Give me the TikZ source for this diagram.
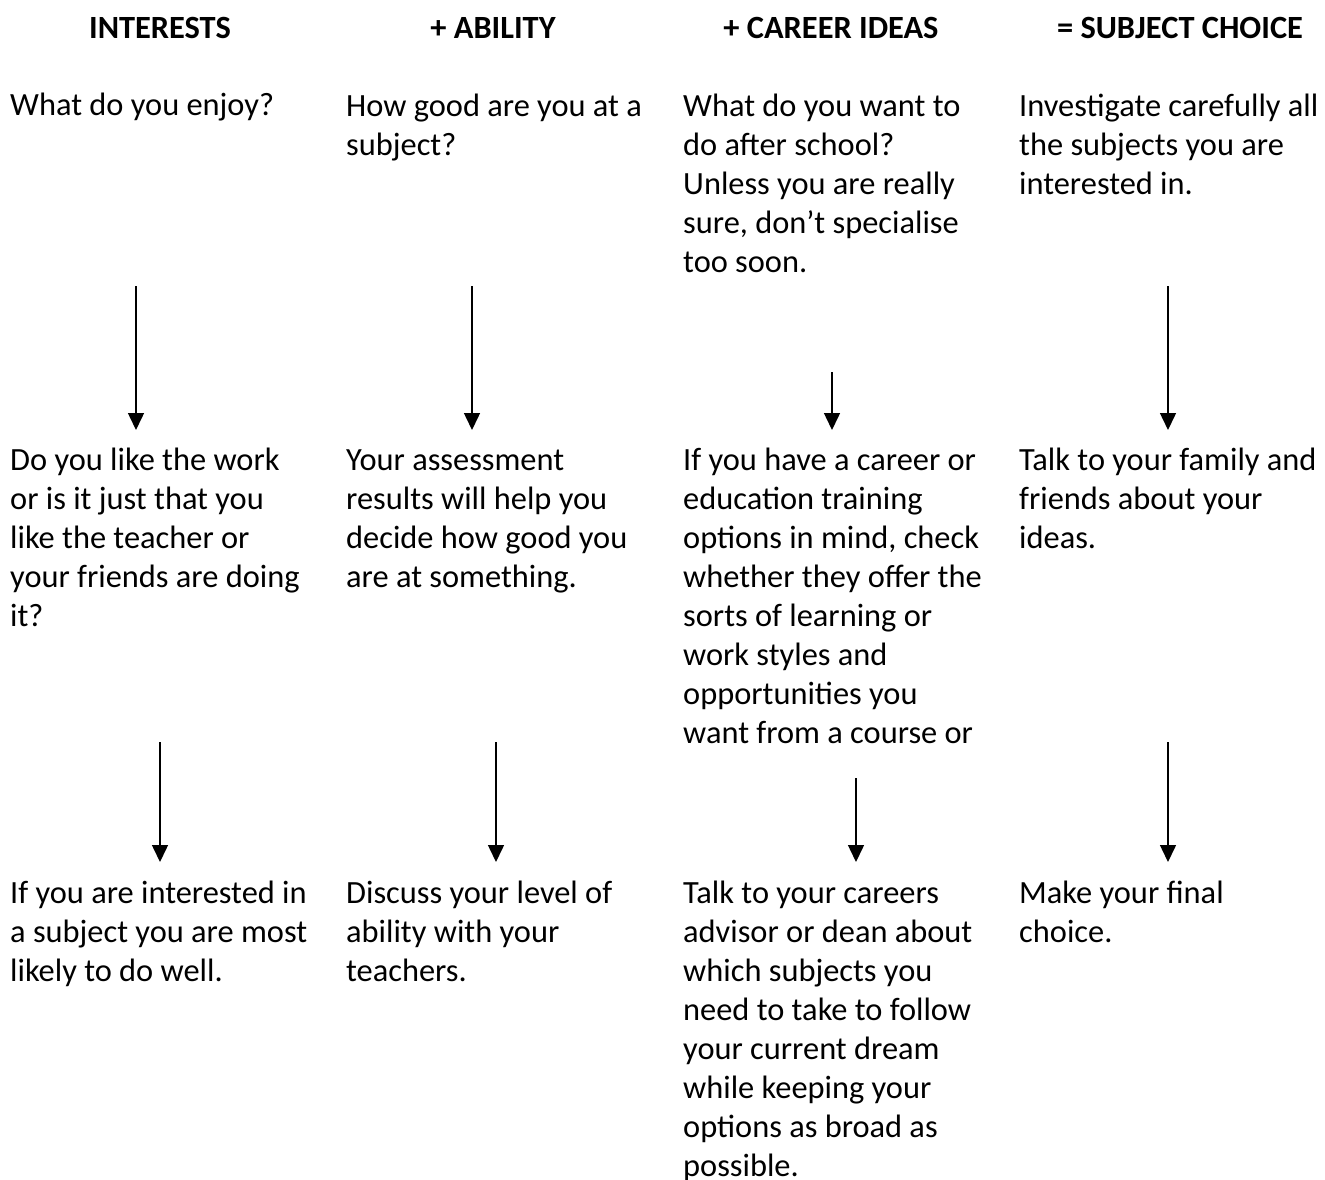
\documentclass[tikz,border=0pt]{standalone}
\usepackage{fontspec}
\setmainfont{Carlito}
\usetikzlibrary{arrows.meta}
\begin{document}
\begin{tikzpicture}[x=1pt,y=1pt,
  txt/.style={anchor=base west,inner sep=0pt,align=left,font=\fontsize{32.4}{39}\selectfont},
  hdr/.style={anchor=base,inner sep=0pt,font=\fontsize{32.4}{39}\selectfont\bfseries},
  arr/.style={line width=1.5pt,-{Triangle[width=16pt,length=17pt]}}]
\useasboundingbox (0,0) rectangle (1325,-1180);
% headers
\node[hdr] (h1) at (160,-39) {INTERESTS};
\node[hdr] (h2) at (493,-39) {+ ABILITY};
\node[hdr] (h3) at (831,-39) {+ CAREER IDEAS};
\node[hdr] (h4) at (1180,-39) {= SUBJECT CHOICE};
% row 1 (first baseline 116; anchor = last baseline)
\node[txt] (a1) at (10,-116) {What do you enjoy?};
\node[txt] (a2) at (346,-155) {How good are you at a\\subject?};
\node[txt] (a3) at (683,-272) {What do you want to\\do after school?\\Unless you are really\\sure, don’t specialise\\too soon.};
\node[txt] (a4) at (1019,-194) {Investigate carefully all\\the subjects you are\\interested in.};
% row 2 (first baseline 470)
\node[txt] (b1) at (10,-626) {Do you like the work\\or is it just that you\\like the teacher or\\your friends are doing\\it?};
\node[txt] (b2) at (346,-587) {Your assessment\\results will help you\\decide how good you\\are at something.};
\node[txt] (b3) at (683,-743) {If you have a career or\\education training\\options in mind, check\\whether they offer the\\sorts of learning or\\work styles and\\opportunities you\\want from a course or};
\node[txt] (b4) at (1019,-548) {Talk to your family and\\friends about your\\ideas.};
% row 3 (first baseline 903)
\node[txt] (c1) at (10,-981) {If you are interested in\\a subject you are most\\likely to do well.};
\node[txt] (c2) at (346,-981) {Discuss your level of\\ability with your\\teachers.};
\node[txt] (c3) at (683,-1176) {Talk to your careers\\advisor or dean about\\which subjects you\\need to take to follow\\your current dream\\while keeping your\\options as broad as\\possible.};
\node[txt] (c4) at (1019,-942) {Make your final\\choice.};
% arrow end points
\coordinate (p1s) at (136,-286); \coordinate (p1e) at (136,-430);
\coordinate (p2s) at (472,-286); \coordinate (p2e) at (472,-430);
\coordinate (p3s) at (832,-372); \coordinate (p3e) at (832,-430);
\coordinate (p4s) at (1168,-286); \coordinate (p4e) at (1168,-430);
\coordinate (q1s) at (160,-742); \coordinate (q1e) at (160,-862);
\coordinate (q2s) at (496,-742); \coordinate (q2e) at (496,-862);
\coordinate (q3s) at (856,-778); \coordinate (q3e) at (856,-862);
\coordinate (q4s) at (1168,-742); \coordinate (q4e) at (1168,-862);
\draw[arr] (p1s) -- (p1e);
\draw[arr] (p2s) -- (p2e);
\draw[arr] (p3s) -- (p3e);
\draw[arr] (p4s) -- (p4e);
\draw[arr] (q1s) -- (q1e);
\draw[arr] (q2s) -- (q2e);
\draw[arr] (q3s) -- (q3e);
\draw[arr] (q4s) -- (q4e);
\end{tikzpicture}
\end{document}
